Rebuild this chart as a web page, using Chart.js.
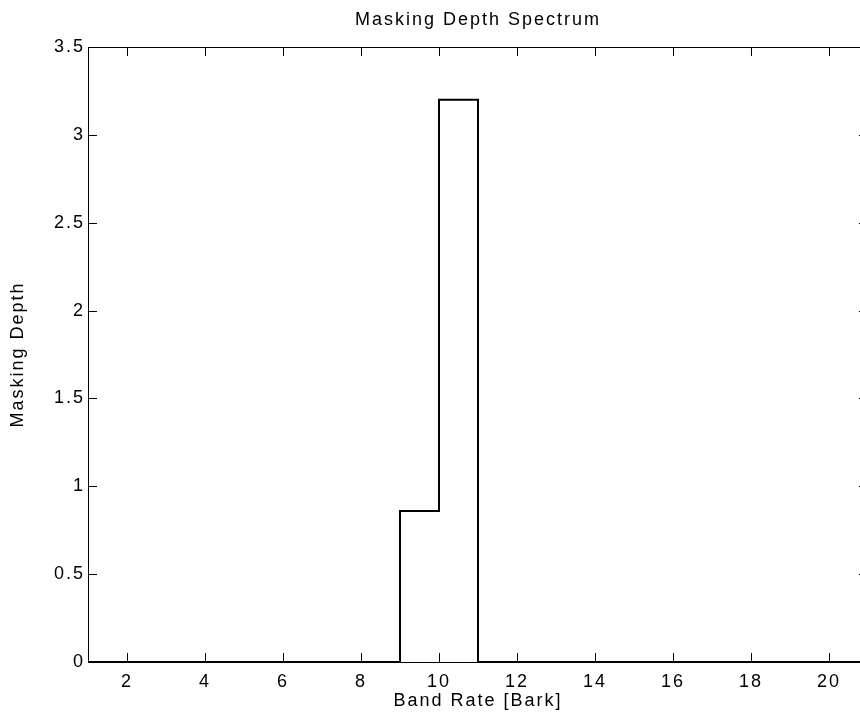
<!DOCTYPE html>
<html>
<head>
<meta charset="utf-8">
<title>Masking Depth Spectrum</title>
<script src="https://cdn.jsdelivr.net/npm/chart.js@4/dist/chart.umd.min.js"></script>
<style>
  html, body { margin: 0; padding: 0; background: #fff; overflow: hidden; }
  canvas { display: block; }
</style>
</head>
<body>
<canvas id="spectrum" width="900" height="724"></canvas>
<script>
// band rate in Bark and masking depth per band (stairs: value holds until next band)
var bandRate = [1, 2, 3, 4, 5, 6, 7, 8, 9, 10, 11, 12, 13, 14, 15, 16, 17, 18, 19, 20, 21];
var maskingDepth = [0, 0, 0, 0, 0, 0, 0, 0, 0.86, 3.2, 0, 0, 0, 0, 0, 0, 0, 0, 0, 0, 0];
var xTicks = [2, 4, 6, 8, 10, 12, 14, 16, 18, 20];
var yTicks = [0, 0.5, 1, 1.5, 2, 2.5, 3, 3.5];

var font = { family: "'Liberation Sans', Arial, sans-serif", size: 18, weight: 'normal' };

var points = bandRate.map(function (b, i) { return { x: b, y: maskingDepth[i] }; });

// MATLAB-like box with inward ticks on all four sides
var boxTicks = {
    id: 'boxTicks',
    beforeDraw: function (chart) {
        chart.ctx.letterSpacing = '2px';
    },
    afterDatasetsDraw: function (chart) {
        var ctx = chart.ctx, a = chart.chartArea;
        var sx = chart.scales.x, sy = chart.scales.y;
        var len = 9;
        ctx.save();
        ctx.strokeStyle = '#000';
        ctx.lineWidth = 1;
        ctx.strokeRect(a.left + 0.5, a.top + 0.5, a.right - a.left, a.bottom - a.top);
        ctx.beginPath();
        sx.ticks.forEach(function (t) {
            var px = Math.round(sx.getPixelForValue(t.value)) + 0.5;
            ctx.moveTo(px, a.bottom); ctx.lineTo(px, a.bottom - len);
            ctx.moveTo(px, a.top); ctx.lineTo(px, a.top + len);
        });
        sy.ticks.forEach(function (t) {
            var py = Math.round(sy.getPixelForValue(t.value)) + 0.5;
            ctx.moveTo(a.left, py); ctx.lineTo(a.left + len, py);
            ctx.moveTo(a.right, py); ctx.lineTo(a.right - len, py);
        });
        ctx.stroke();
        ctx.restore();
    }
};

var ctx = document.getElementById('spectrum').getContext('2d');

var chart = new Chart(ctx, {
    type: 'line',
    data: {
        datasets: [{
            label: 'Masking Depth',
            data: points,
            stepped: true,
            borderColor: '#000',
            borderWidth: 2,
            pointRadius: 0,
            fill: false
        }]
    },
    options: {
        responsive: false,
        animation: false,
        layout: { padding: { left: 0, right: 32, top: 0, bottom: 0 } },
        plugins: {
            legend: { display: false },
            tooltip: { enabled: false },
            title: {
                display: true,
                text: 'Masking Depth Spectrum',
                color: '#000',
                font: font,
                fullSize: false,
                padding: { top: 9, bottom: 16.4 }
            }
        },
        scales: {
            x: {
                type: 'linear',
                min: 1,
                max: 21,
                grid: { display: false, drawTicks: false },
                border: { display: false },
                afterBuildTicks: function (s) {
                    s.ticks = xTicks.map(function (v) { return { value: v }; });
                },
                afterFit: function (s) { s.height = 62; },
                ticks: {
                    color: '#000',
                    font: font,
                    padding: 9,
                    maxRotation: 0,
                    callback: function (v) { return String(v); }
                },
                title: {
                    display: true,
                    text: 'Band Rate [Bark]',
                    color: '#000',
                    font: font,
                    padding: { top: 0, bottom: 12 }
                }
            },
            y: {
                min: 0,
                max: 3.5,
                grid: { display: false, drawTicks: false },
                border: { display: false },
                afterBuildTicks: function (s) {
                    s.ticks = yTicks.map(function (v) { return { value: v }; });
                },
                afterFit: function (s) { s.width = 88; },
                ticks: {
                    color: '#000',
                    font: font,
                    padding: 3,
                    callback: function (v) { return String(v); }
                },
                title: {
                    display: true,
                    text: 'Masking Depth',
                    color: '#000',
                    font: font,
                    padding: { top: 7, bottom: 0 }
                }
            }
        }
    },
    plugins: [boxTicks]
});
</script>
</body>
</html>
